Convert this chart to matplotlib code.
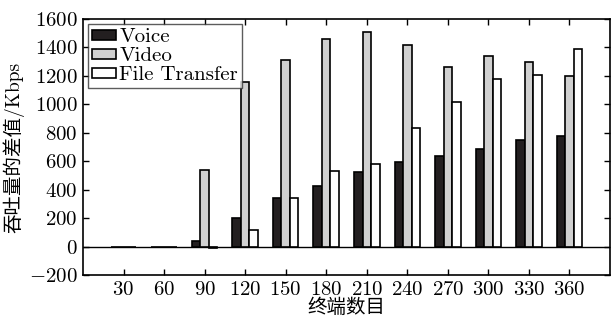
import numpy as np
import matplotlib.pyplot as plt
from matplotlib.patches import Patch

plt.rcParams['font.family'] = ['cmr10', 'Noto Sans CJK SC']
plt.rcParams['mathtext.fontset'] = 'cm'
plt.rcParams['axes.formatter.use_mathtext'] = True

# data
terminals = [30, 60, 90, 120, 150, 180, 210, 240, 270, 300, 330, 360]
voice = [-5, -5, 42, 203, 339, 428, 526, 592, 637, 688, 751, 777]
video = [-5, -5, 538, 1160, 1310, 1457, 1511, 1417, 1265, 1342, 1298, 1199]
file_transfer = [-5, -5, -12, 114, 339, 533, 583, 836, 1019, 1178, 1209, 1389]
series_names = ['Voice', 'Video', 'File Transfer']
colors = ['#231f20', '#d0d0d0', '#ffffff']

fig = plt.figure(figsize=(6.16, 3.19), dpi=100)
ax = fig.add_axes([0.1347, 0.138, 0.8556, 0.8024])

x = np.array(terminals)
w = 6.3
for i, vals in enumerate([voice, video, file_transfer]):
    ax.bar(x + (i - 1) * w, vals, width=w, color=colors[i], edgecolor='black',
           linewidth=1.2, zorder=2)

ax.axhline(0, color='black', lw=1.0, zorder=1)

ax.set_xlim(0, 390)
ax.set_ylim(-200, 1600)
ax.set_xticks(terminals)
ax.set_yticks(range(-200, 1601, 200))
ax.tick_params(direction='in', top=True, right=True, labelsize=15, length=4,
               width=1, pad=4)
for s in ax.spines.values():
    s.set_linewidth(1.2)

ax.set_xlabel('终端数目', fontsize=14, labelpad=0)
ax.set_ylabel('吞吐量的差值/Kbps', fontsize=14, labelpad=3)

# legend: square black frame, patch handles
handles = [Patch(facecolor=c, edgecolor='black', linewidth=1.2) for c in colors]
leg = ax.legend(handles, series_names, loc='upper left', fontsize=15,
                frameon=True, fancybox=False, edgecolor='#333333',
                borderaxespad=0.25, borderpad=0.2, labelspacing=0.05,
                handlelength=1.15, handleheight=0.4, handletextpad=0.15)
leg.get_frame().set_linewidth(1.0)

fig.savefig('out.png', dpi=100)
